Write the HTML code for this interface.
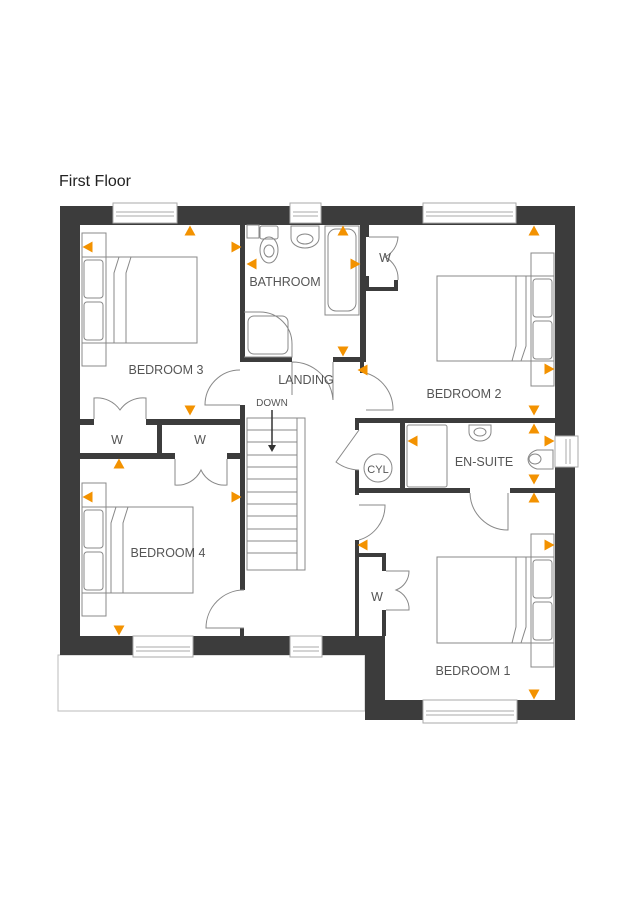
<!DOCTYPE html>
<html><head><meta charset="utf-8"><style>
html,body{margin:0;padding:0;background:#fff;}
svg{display:block;}
text{font-family:"Liberation Sans",sans-serif;fill:#555;}
</style></head><body>
<svg width="636" height="900" viewBox="0 0 636 900" xmlns="http://www.w3.org/2000/svg">
<defs>
<path id="t" d="M-5.5,4.5 L5.5,4.5 L0,-5.5 Z" fill="#f39200"/>
</defs>
<text x="59" y="186" font-size="16" style="fill:#222">First Floor</text>

<!-- terrace -->
<rect x="58" y="655" width="307" height="56" fill="#fff" stroke="#bbb" stroke-width="1"/>

<!-- outer walls -->
<g fill="#3c3c3c">
<rect x="60" y="206" width="515" height="19"/>
<rect x="60" y="206" width="20" height="449"/>
<rect x="555" y="206" width="20" height="514"/>
<rect x="60" y="636" width="325" height="19"/>
<rect x="365" y="636" width="20" height="84"/>
<rect x="365" y="700" width="210" height="20"/>
</g>

<!-- windows -->
<g fill="#fff" stroke="#aaa" stroke-width="1">
<rect x="113" y="203" width="64" height="20"/><line x1="116" y1="212" x2="174" y2="212"/><line x1="116" y1="216" x2="174" y2="216"/>
<rect x="290" y="203" width="31" height="20"/><line x1="293" y1="212" x2="318" y2="212"/><line x1="293" y1="216" x2="318" y2="216"/>
<rect x="423" y="203" width="93" height="20"/><line x1="426" y1="212" x2="513" y2="212"/><line x1="426" y1="216" x2="513" y2="216"/>
<rect x="133" y="636" width="60" height="21"/><line x1="136" y1="647" x2="190" y2="647"/><line x1="136" y1="651" x2="190" y2="651"/>
<rect x="290" y="636" width="32" height="21"/><line x1="293" y1="647" x2="319" y2="647"/><line x1="293" y1="651" x2="319" y2="651"/>
<rect x="423" y="700" width="94" height="23"/><line x1="426" y1="711" x2="514" y2="711"/><line x1="426" y1="715" x2="514" y2="715"/>
<rect x="555" y="436" width="23" height="31"/><line x1="566" y1="439" x2="566" y2="464"/><line x1="570" y1="439" x2="570" y2="464"/>
</g>

<!-- interior walls -->
<g fill="#3c3c3c">
<rect x="240" y="225" width="5" height="137"/>
<rect x="240" y="357" width="52" height="5"/>
<rect x="333" y="357" width="33" height="5"/>
<rect x="360" y="225" width="6" height="137"/>
<rect x="360" y="358" width="4" height="15"/>
<rect x="365" y="225" width="4" height="12"/>
<rect x="365" y="276" width="4" height="15"/>
<rect x="365" y="287" width="33" height="4"/>
<rect x="394" y="280" width="4" height="11"/>
<!-- bed3 / W -->
<rect x="80" y="419" width="14" height="6"/>
<rect x="146" y="419" width="99" height="6"/>
<rect x="157" y="425" width="5" height="30"/>
<rect x="80" y="453" width="95" height="6"/>
<rect x="227" y="453" width="18" height="6"/>
<rect x="240" y="405" width="5" height="185"/>
<rect x="240" y="628" width="4" height="10"/>
<!-- bed2 / ensuite -->
<rect x="355" y="418" width="200" height="5"/>
<rect x="355" y="418" width="4" height="12"/>
<rect x="355" y="470" width="4" height="25"/>
<rect x="400" y="423" width="5" height="67"/>
<rect x="355" y="488" width="115" height="5"/>
<rect x="510" y="488" width="45" height="5"/>
<rect x="355" y="540" width="4" height="96"/>
<rect x="355" y="553" width="31" height="4"/>
<rect x="382" y="553" width="4" height="18"/>
<rect x="382" y="610" width="4" height="26"/>
</g>

<g fill="none" stroke="#888" stroke-width="1">
<!-- doors -->
<path d="M240,405 L205,405 A35,35 0 0 1 240,370"/>
<path d="M292,362 L292,395 M333,362 L333,400 A41,41 0 0 0 292,362"/>
<path d="M366,373 A38,38 0 0 1 393,410 L366,410"/>
<path d="M244,628 L206,628 A38,38 0 0 1 244,590"/>
<path d="M359,540 A36,36 0 0 0 385,505 L359,505"/>
<path d="M470,493 A38,38 0 0 0 508,530 L508,493"/>
<path d="M359,430 L336,462 A40,40 0 0 0 359,470"/>
<!-- wardrobe doors -->
<path d="M94,419 L94,398 A28,28 0 0 1 120,410 A28,28 0 0 1 146,398 L146,419"/>
<path d="M175,459 L175,485 A26,26 0 0 0 201,470 A26,26 0 0 0 227,485 L227,459"/>
<path d="M369,237 L398,237 A24,24 0 0 1 385,257 A24,24 0 0 1 398,280"/>
<path d="M386,571 L409,571 A20,20 0 0 1 396,590 A20,20 0 0 1 409,610 L386,610"/>
<!-- stairs -->
<rect x="247" y="418" width="50" height="152"/>
<rect x="297" y="418" width="8" height="152"/>
<path d="M247,430H297M247,442H297M247,455H297M247,467H297M247,479H297M247,492H297M247,504H297M247,516H297M247,529H297M247,541H297M247,553H297"/>
<!-- beds -->
<rect x="82" y="233" width="24" height="133"/>
<rect x="82" y="257" width="115" height="86"/>
<rect x="84" y="260" width="19" height="38" rx="3"/><rect x="84" y="302" width="19" height="38" rx="3"/>
<path d="M114,343 L114,273 L119,257 M126,343 L126,273 L131,257"/>
<rect x="531" y="253" width="23" height="133"/>
<rect x="437" y="276" width="117" height="85"/>
<rect x="533" y="279" width="19" height="38" rx="3"/><rect x="533" y="321" width="19" height="38" rx="3"/>
<path d="M516,276 L516,346 L512,361 M526,276 L526,346 L521,361"/>
<rect x="82" y="483" width="24" height="133"/>
<rect x="82" y="507" width="111" height="86"/>
<rect x="84" y="510" width="19" height="38" rx="3"/><rect x="84" y="552" width="19" height="38" rx="3"/>
<path d="M111,593 L111,523 L116,507 M123,593 L123,523 L128,507"/>
<rect x="531" y="534" width="23" height="133"/>
<rect x="437" y="557" width="117" height="86"/>
<rect x="533" y="560" width="19" height="38" rx="3"/><rect x="533" y="602" width="19" height="38" rx="3"/>
<path d="M516,557 L516,627 L512,643 M526,557 L526,627 L521,643"/>
<!-- bathroom fixtures -->
<rect x="325" y="226" width="34" height="89"/>
<rect x="328" y="229" width="28" height="82" rx="8"/>
<rect x="247" y="225" width="12" height="13"/>
<path d="M244,312 L260,312 A32,32 0 0 1 292,344 L292,357 L244,357"/>
<rect x="248" y="316" width="40" height="38" rx="6"/>
<rect x="260" y="226" width="18" height="13" rx="2"/>
<ellipse cx="269" cy="250" rx="9" ry="13"/><ellipse cx="269" cy="251" rx="5" ry="6"/>
<path d="M291,226 L319,226 L319,238 A14,10 0 0 1 291,238 Z"/>
<ellipse cx="305" cy="239" rx="8" ry="5"/>
<!-- ensuite fixtures -->
<rect x="407" y="425" width="40" height="62" rx="2"/>
<path d="M469,425 L491,425 L491,432 A11,9 0 0 1 469,432 Z"/>
<ellipse cx="480" cy="432" rx="6" ry="4"/>
<path d="M553,450 L537,450 A13,10 0 0 0 537,469 L553,469 Z"/>
<ellipse cx="535" cy="459" rx="6" ry="5"/>
<circle cx="378" cy="468" r="14"/>
</g>

<!-- down arrow -->
<line x1="272" y1="410" x2="272" y2="448" stroke="#333" stroke-width="1.5"/>
<path d="M268,445 L276,445 L272,452 Z" fill="#333"/>

<!-- labels -->
<g font-size="12.5" text-anchor="middle">
<text x="166" y="374">BEDROOM 3</text>
<text x="285" y="286">BATHROOM</text>
<text x="306" y="384">LANDING</text>
<text x="272" y="406" font-size="10">DOWN</text>
<text x="464" y="398">BEDROOM 2</text>
<text x="484" y="466">EN-SUITE</text>
<text x="168" y="557">BEDROOM 4</text>
<text x="473" y="675">BEDROOM 1</text>
<text x="385" y="262">W</text>
<text x="117" y="444">W</text>
<text x="200" y="444">W</text>
<text x="377" y="601">W</text>
<text x="378" y="473" font-size="11">CYL</text>
</g>

<!-- orange markers -->
<g>
<use href="#t" transform="translate(88,247) rotate(-90)"/>
<use href="#t" transform="translate(190,231)"/>
<use href="#t" transform="translate(236,247) rotate(90)"/>
<use href="#t" transform="translate(190,410) rotate(180)"/>
<use href="#t" transform="translate(252,264) rotate(-90)"/>
<use href="#t" transform="translate(343,231)"/>
<use href="#t" transform="translate(355,264) rotate(90)"/>
<use href="#t" transform="translate(343,351) rotate(180)"/>
<use href="#t" transform="translate(363,370) rotate(-90)"/>
<use href="#t" transform="translate(534,231)"/>
<use href="#t" transform="translate(549,369) rotate(90)"/>
<use href="#t" transform="translate(534,410) rotate(180)"/>
<use href="#t" transform="translate(534,429)"/>
<use href="#t" transform="translate(413,441) rotate(-90)"/>
<use href="#t" transform="translate(549,441) rotate(90)"/>
<use href="#t" transform="translate(534,479) rotate(180)"/>
<use href="#t" transform="translate(534,498)"/>
<use href="#t" transform="translate(119,464)"/>
<use href="#t" transform="translate(88,497) rotate(-90)"/>
<use href="#t" transform="translate(236,497) rotate(90)"/>
<use href="#t" transform="translate(119,630) rotate(180)"/>
<use href="#t" transform="translate(363,545) rotate(-90)"/>
<use href="#t" transform="translate(549,545) rotate(90)"/>
<use href="#t" transform="translate(534,694) rotate(180)"/>
</g>
</svg>
</body></html>
